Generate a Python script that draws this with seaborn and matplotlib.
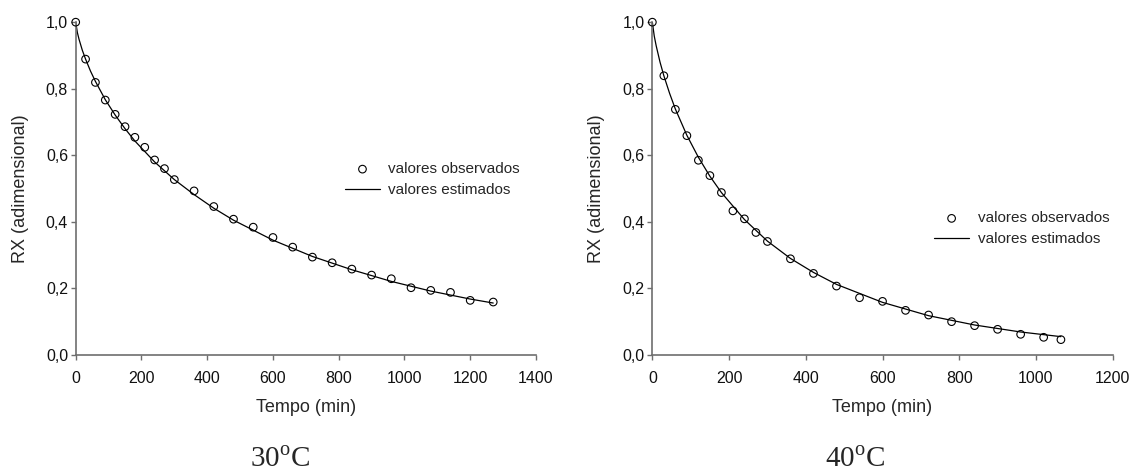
import numpy as np
import pandas as pd
import matplotlib
matplotlib.use("Agg")
import matplotlib.pyplot as plt
import seaborn as sns

# observed drying data, 30 C
t30_obs = [0, 30, 60, 90, 120, 150, 180, 210, 240, 270, 300, 360, 420, 480, 540,
           600, 660, 720, 780, 840, 900, 960, 1020, 1080, 1140, 1200, 1270]
rx30_obs = [1.0, 0.889, 0.819, 0.766, 0.723, 0.686, 0.654, 0.624, 0.586, 0.560, 0.527,
            0.493, 0.446, 0.408, 0.384, 0.353, 0.324, 0.294, 0.277, 0.258, 0.240,
            0.229, 0.202, 0.194, 0.188, 0.164, 0.159]

# estimated curve, 30 C
t30_est = [0, 5, 10, 20, 30, 45, 60, 90, 120, 150, 180, 240, 300, 360, 420, 480,
           600, 720, 840, 960, 1080, 1200, 1270]
rx30_est = [1.0, 0.969, 0.949, 0.916, 0.889, 0.853, 0.822, 0.767, 0.721, 0.680, 0.643,
            0.580, 0.527, 0.482, 0.441, 0.405, 0.345, 0.296, 0.256, 0.221, 0.192,
            0.168, 0.156]

# observed drying data, 40 C
t40_obs = [0, 30, 60, 90, 120, 150, 180, 210, 240, 270, 300, 360, 420, 480, 540,
           600, 660, 720, 780, 840, 900, 960, 1020, 1065]
rx40_obs = [1.0, 0.839, 0.738, 0.659, 0.585, 0.539, 0.488, 0.433, 0.409, 0.368, 0.341,
            0.289, 0.245, 0.207, 0.172, 0.161, 0.134, 0.120, 0.100, 0.088, 0.077,
            0.062, 0.053, 0.046]

# estimated curve, 40 C
t40_est = [0, 5, 10, 20, 30, 45, 60, 90, 120, 150, 180, 240, 300, 360, 420, 480,
           600, 720, 840, 960, 1065]
rx40_est = [1.0, 0.958, 0.929, 0.880, 0.839, 0.786, 0.739, 0.660, 0.594, 0.537, 0.488,
            0.407, 0.342, 0.290, 0.248, 0.212, 0.158, 0.118, 0.090, 0.069, 0.055]

panels = [
    ("30$^{\\mathrm{o}}$C", t30_obs, rx30_obs, t30_est, rx30_est, 1400, (0.555, 0.527)),
    ("40$^{\\mathrm{o}}$C", t40_obs, rx40_obs, t40_est, rx40_est, 1200, (0.582, 0.379)),
]

sns.set_style("ticks")
plt.rcParams['font.family'] = ['Liberation Sans', 'DejaVu Sans']
plt.rcParams['mathtext.fontset'] = 'custom'
plt.rcParams['mathtext.rm'] = 'Liberation Serif'

fig = plt.figure(figsize=(11.3, 4.72), dpi=100)
ax_pos = [[0.067, 0.248, 0.4073, 0.705], [0.5773, 0.248, 0.4074, 0.705]]
title_x = [0.248, 0.757]
ylab_x = [0.0177, 0.528]
grey = '#6e6e6e'

for i, (title, t_obs, rx_obs, t_est, rx_est, xmax, leg_pos) in enumerate(panels):
    ax = fig.add_axes(ax_pos[i])
    obs = pd.DataFrame({'t': t_obs, 'rx': rx_obs})
    est = pd.DataFrame({'t': t_est, 'rx': rx_est})

    # fitted curve first, observed circles on top
    sns.lineplot(data=est, x='t', y='rx', ax=ax, color='black', lw=0.9,
                 label='valores estimados', zorder=2)
    sns.scatterplot(data=obs, x='t', y='rx', ax=ax, marker='o', s=30,
                    facecolors='none', edgecolor='black', linewidth=0.8,
                    label='valores observados', zorder=3, clip_on=False)

    ax.set_xlim(0, xmax)
    ax.set_ylim(0, 1.0)
    ax.set_xticks(np.arange(0, xmax + 1, 200))
    ax.set_yticks(np.arange(0, 1.01, 0.2))
    ax.set_yticklabels([f"{v:.1f}".replace('.', ',') for v in np.arange(0, 1.01, 0.2)])
    ax.tick_params(axis='both', direction='out', length=3.5, width=1.0, color=grey,
                   labelsize=11.5, labelcolor='#111111')
    ax.tick_params(axis='x', pad=8)
    ax.tick_params(axis='y', pad=2)
    for side in ['top', 'right']:
        ax.spines[side].set_visible(False)
    for side in ['left', 'bottom']:
        ax.spines[side].set_color(grey)
        ax.spines[side].set_linewidth(1.2)

    ax.set_xlabel('Tempo (min)', fontsize=13, va='center')
    ax.xaxis.set_label_coords(0.5, -0.159)
    ax.set_ylabel('')
    fig.text(ylab_x[i], ax_pos[i][1] + ax_pos[i][3] / 2, 'RX (adimensional)', rotation=90,
             ha='center', va='center', fontsize=13)

    # legend: observed first, then estimated
    handles, labels = ax.get_legend_handles_labels()
    order = [labels.index('valores observados'), labels.index('valores estimados')]
    ax.legend([handles[j] for j in order], [labels[j] for j in order],
              loc='center left', bbox_to_anchor=leg_pos, frameon=False,
              fontsize=11, handlelength=2.3, handletextpad=0.55, labelspacing=0.45)

    fig.text(title_x[i], 0.0106, title, ha='center', va='baseline', fontsize=21,
             family='Liberation Serif')

fig.savefig('out.png', dpi=100)
